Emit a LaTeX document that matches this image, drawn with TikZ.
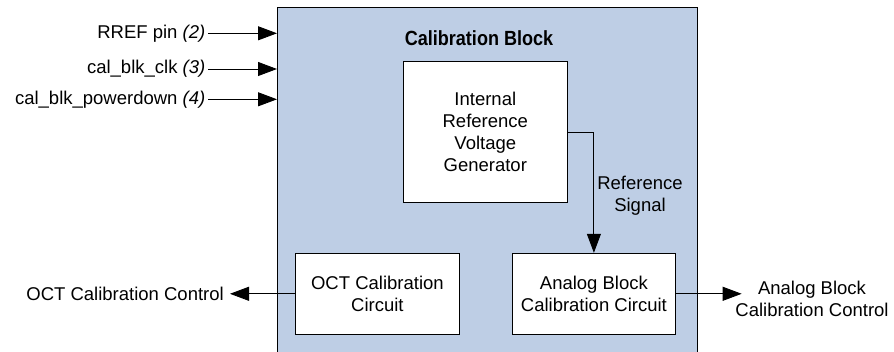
\documentclass[tikz,border=0pt]{standalone}
\usepackage{fontspec}
\setmainfont{Liberation Sans}
\newfontfamily\condbold[FakeStretch=0.88]{Liberation Sans}
\usetikzlibrary{arrows.meta}
\definecolor{calblue}{RGB}{190,206,229}
\tikzset{
  txt/.style={font=\fontsize{18.5}{22}\selectfont, inner sep=0pt, align=center},
  box/.style={draw=black, line width=1pt, fill=white, txt},
  arr/.style={line width=0.9pt, -{Triangle[length=19pt,width=14pt]}},
}
\begin{document}
\begin{tikzpicture}[x=1pt,y=-1pt]
\clip (0,0) rectangle (894,352);
\fill[white] (0,0) rectangle (894,352);
% main block
\node[draw=black, line width=1pt, fill=calblue, minimum width=420pt, minimum height=380pt, anchor=north west, inner sep=0pt] (cal) at (277,7) {};
\node[font=\condbold\fontsize{20.5}{22}\selectfont\bfseries, inner sep=0pt, anchor=base] (title) at (479,45.5) {Calibration Block};
% inner boxes
\node[box, minimum width=164pt, minimum height=140.6pt] (irvg) at (485.3,132) {Internal\\Reference\\Voltage\\Generator};
\node[box, minimum width=163.3pt, minimum height=81pt] (oct) at (377.4,293.8) {OCT Calibration\\Circuit};
\node[box, minimum width=163.7pt, minimum height=81pt] (ana) at (593.9,293.8) {Analog Block\\Calibration Circuit};
% reference signal
\draw[arr] (irvg.east) -| (ana.north);
\node[txt] (reflbl) at (640,195.5) {Reference\\Signal};
% inputs
\coordinate (in1) at (208,33.3);
\coordinate (in2) at (208,69);
\coordinate (in3) at (208,99.3);
\node[txt, anchor=east] (t1) at ([xshift=-2.5pt]in1) {RREF pin \textit{(2)}};
\node[txt, anchor=east] (t2) at ([xshift=-2.5pt]in2) {cal\_blk\_clk \textit{(3)}};
\node[txt, anchor=east] (t3) at ([xshift=-2.5pt]in3) {cal\_blk\_powerdown \textit{(4)}};
\draw[arr] (in1) -- (in1 -| cal.west);
\draw[arr] (in2) -- (in2 -| cal.west);
\draw[arr] (in3) -- (in3 -| cal.west);
% outputs
\coordinate (octout) at (230,293.8);
\draw[arr] (oct.west) -- (octout);
\node[txt, anchor=east] (octlbl) at (224,293.8) {OCT Calibration Control};
\coordinate (anaout) at (741.7,293.8);
\draw[arr] (ana.east) -- (anaout);
\node[txt] (analbl) at (812,299) {Analog Block\\Calibration Control};
\end{tikzpicture}
\end{document}
